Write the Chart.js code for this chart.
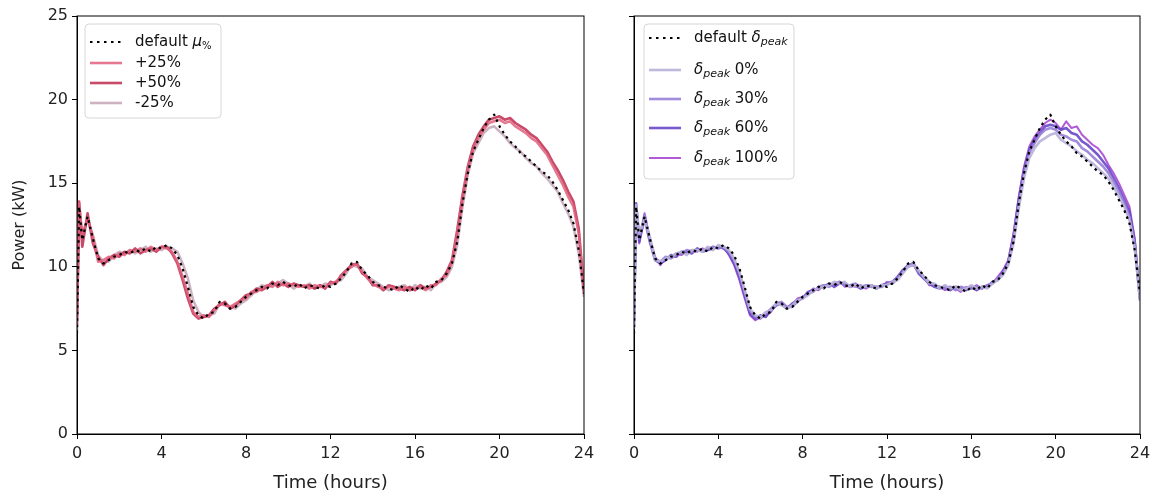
<!DOCTYPE html>
<html>
<head>
<meta charset="utf-8">
<script src="https://cdn.jsdelivr.net/npm/chart.js@4.4.0/dist/chart.umd.min.js"></script>
<style>
  body { margin: 0; background: #fff; width: 1160px; height: 497px; overflow: hidden; position: relative; }
  canvas { position: absolute; top: 0; }
  #left { left: 0; }
  #right { left: 600px; }
</style>
</head>
<body>
<canvas id="left" width="600" height="497"></canvas>
<canvas id="right" width="560" height="497"></canvas>
<script>
// sample times (hours), one every 15 minutes plus an extra one just after midnight
var hours = [0,0.1,0.25,0.5,0.75,1,1.25,1.5,1.75,2,2.25,2.5,2.75,3,3.25,3.5,3.75,4,4.25,4.5,4.75,
  5,5.25,5.5,5.75,6,6.25,6.5,6.75,7,7.25,7.5,7.75,8,8.25,8.5,8.75,9,9.25,9.5,9.75,
  10,10.25,10.5,10.75,11,11.25,11.5,11.75,12,12.25,12.5,12.75,13,13.25,13.5,13.75,
  14,14.25,14.5,14.75,15,15.25,15.5,15.75,16,16.25,16.5,16.75,17,17.25,17.5,17.75,
  18,18.25,18.5,18.75,19,19.25,19.5,19.75,20,20.25,20.5,20.75,21,21.25,21.5,21.75,
  22,22.25,22.5,22.75,23,23.25,23.5,23.75,24];
var xTicks = [0, 4, 8, 12, 16, 20, 24];
var yTicks = [0, 5, 10, 15, 20, 25];

// power (kW)
var defaultLoad = [6.0,13.6,11.6,13.0,11.7, 10.5,10.2,10.4,10.6, 10.7,10.9,10.8,11.0, 10.9,11.1,10.9,11.2,
  11.1,11.3,11.1,10.7, 9.9,8.8,7.6,7.1, 6.9,7.2,7.3,7.9, 7.8,7.5,7.6,7.9, 8.2,8.4,8.6,8.8,
  8.7,9.0,8.9,9.1, 8.9,8.8,9.0,8.7, 8.9,8.8,8.7,8.9, 8.8,9.0,9.3,9.7, 10.2,10.3,9.8,9.5,
  9.1,8.9,8.8,8.7, 8.6,8.9,8.7,8.5, 8.8,8.6,8.9,8.7, 9.1,9.2,9.6,10.2, 11.5,13.8,15.6,16.9,
  17.6,18.3,18.8,19.1, 18.4,17.9,17.5,17.2, 16.8,16.6,16.3,16.0, 15.7,15.5,15.1,14.6,
  14.0,13.4,12.6,11.0, 8.4];
var mu25 = [6.5,13.8,11.9,12.9,11.8, 10.3,10.4,10.6,10.5, 10.8,10.7,11.0,10.9, 11.1,10.9,11.2,11.0,
  11.2,11.1,10.9,10.3, 9.4,8.4,7.3,7.0, 7.1,7.0,7.4,7.8, 7.7,7.6,7.8,8.0, 8.1,8.5,8.5,8.7,
  8.9,8.8,9.1,8.9, 9.0,8.9,8.8,8.9, 8.7,8.9,8.8,8.8, 9.0,9.1,9.4,9.8, 10.0,10.2,9.7,9.3,
  9.0,8.8,8.7,8.8, 8.7,8.6,8.8,8.6, 8.7,8.8,8.6,8.9, 8.9,9.3,9.5,10.3, 11.9,14.0,15.8,17.0,
  17.7,18.2,18.6,18.7, 18.8,18.6,18.7,18.4, 18.2,18.0,17.7,17.5, 17.1,16.7,16.1,15.5,
  14.9,14.2,13.6,12.0, 8.5];
var mu50 = [7.0,13.9,11.2,13.2,11.4, 10.6,10.1,10.5,10.7, 10.6,10.9,10.8,11.1, 10.8,11.0,11.1,10.9,
  11.2,11.2,10.8,10.2, 9.2,8.1,7.2,6.9, 7.0,7.1,7.5,7.7, 7.9,7.5,7.7,8.0, 8.3,8.4,8.7,8.6,
  8.8,9.1,8.8,9.0, 8.8,9.0,8.9,8.8, 8.9,8.7,8.9,8.7, 9.1,9.0,9.5,9.8, 10.1,10.2,9.6,9.4,
  8.9,8.9,8.6,8.9, 8.8,8.7,8.6,8.8, 8.6,8.9,8.7,8.8, 9.0,9.2,9.7,10.4, 12.2,14.3,16.0,17.2,
  17.9,18.4,18.8,18.9, 19.0,18.8,18.9,18.6, 18.4,18.2,17.9,17.7, 17.3,16.9,16.3,15.8,
  15.2,14.5,13.9,12.3, 8.6];
var muM25 = [6.2,13.3,12.0,12.8,11.9, 10.7,10.3,10.3,10.7, 10.9,10.8,11.0,10.8, 11.0,11.2,10.9,11.1,
  11.0,11.2,11.1,10.9, 10.2,9.3,8.0,7.3, 7.0,7.1,7.2,7.8, 7.8,7.6,7.5,7.8, 8.0,8.3,8.6,8.9,
  8.8,8.9,9.0,9.2, 9.0,8.7,8.9,8.8, 9.0,8.7,8.8,9.0, 8.9,9.1,9.2,9.6, 10.2,10.0,9.9,9.4,
  9.2,9.0,8.8,8.6, 8.7,8.8,8.9,8.6, 8.9,8.7,8.8,8.6, 9.0,9.1,9.4,10.0, 11.3,13.6,15.5,16.8,
  17.4,18.0,18.3,18.4, 18.1,17.8,17.4,17.1, 16.9,16.5,16.2,16.0, 15.6,15.3,14.9,14.5,
  13.8,13.2,12.4,10.8, 8.2];

var peak0 = [6.3,13.7,12.0,12.8,11.8, 10.4,10.3,10.5,10.6, 10.8,10.9,10.7,11.0, 11.0,10.9,11.2,11.0,
  11.3,11.2,11.0,10.5, 9.7,8.6,7.5,7.1, 7.0,7.3,7.4,7.8, 7.7,7.5,7.7,8.0, 8.1,8.3,8.6,8.7,
  8.8,8.9,9.1,9.0, 9.1,8.8,8.9,8.8, 8.8,8.9,8.7,8.9, 8.9,9.1,9.2,9.6, 10.0,10.1,9.8,9.4,
  9.0,9.0,8.7,8.9, 8.7,8.8,8.6,8.7, 8.9,8.7,8.8,8.7, 9.0,9.2,9.5,10.1, 11.4,13.5,15.3,16.5,
  17.1,17.5,17.7,17.9, 18.0,17.6,17.4,17.2, 16.9,16.7,16.4,16.2, 15.9,15.6,15.3,14.8,
  14.2,13.6,12.8,11.1, 8.0];
var peak30 = [6.5,13.6,11.7,13.1,11.6, 10.5,10.3,10.6,10.5, 10.7,10.8,11.0,10.9, 11.0,11.0,11.1,11.2,
  11.1,11.2,10.9,10.4, 9.6,8.5,7.4,7.0, 6.9,7.2,7.5,7.8, 7.9,7.6,7.6,7.9, 8.2,8.4,8.5,8.8,
  8.9,8.8,9.0,9.1, 8.9,8.9,9.0,8.8, 8.9,8.8,8.8,8.8, 9.0,9.0,9.3,9.7, 10.1,10.2,9.7,9.4,
  9.1,8.9,8.8,8.7, 8.8,8.6,8.8,8.7, 8.7,8.8,8.7,8.9, 9.0,9.3,9.6,10.2, 11.6,13.7,15.6,16.8,
  17.4,17.9,18.2,18.3, 18.2,17.9,17.8,17.6, 17.5,17.1,16.9,16.6, 16.3,16.0,15.6,15.1,
  14.5,13.8,13.0,11.3, 8.1];
var peak60 = [6.8,13.8,11.5,12.9,11.5, 10.4,10.2,10.4,10.7, 10.6,10.9,10.9,10.8, 11.1,10.9,11.0,11.1,
  11.2,11.1,10.8,10.2, 9.4,8.3,7.2,6.9, 7.1,7.0,7.4,7.7, 7.8,7.5,7.8,8.0, 8.1,8.5,8.6,8.7,
  8.8,9.0,8.8,9.0, 9.0,8.8,8.9,8.7, 8.8,8.9,8.7,8.9, 9.0,9.1,9.4,9.8, 10.1,10.2,9.6,9.3,
  9.0,8.8,8.7,8.8, 8.6,8.8,8.7,8.6, 8.8,8.6,8.8,8.8, 9.1,9.2,9.7,10.3, 11.8,14.0,15.8,17.0,
  17.6,18.0,18.4,18.5, 18.4,18.2,18.3,18.0, 17.9,17.5,17.3,17.0, 16.7,16.3,15.9,15.3,
  14.7,14.0,13.3,11.5, 8.0];
var peak100 = [7.0,13.7,11.4,13.2,11.7, 10.6,10.1,10.5,10.6, 10.8,10.7,10.9,11.0, 10.9,11.1,11.0,11.2,
  11.1,11.2,10.7,10.1, 9.2,8.1,7.1,6.8, 7.0,7.1,7.3,7.8, 7.8,7.6,7.7,8.1, 8.2,8.4,8.7,8.6,
  8.9,8.9,9.0,9.1, 8.8,8.9,8.8,8.9, 8.7,8.9,8.8,8.8, 9.1,9.0,9.3,9.8, 10.0,10.1,9.7,9.4,
  8.9,8.9,8.8,8.6, 8.8,8.7,8.5,8.8, 8.7,8.9,8.7,8.9, 9.0,9.4,9.8,10.4, 12.0,14.2,16.0,17.2,
  17.8,18.2,18.6,18.8, 18.6,18.2,18.7,18.3, 18.4,17.9,17.6,17.3, 17.1,16.7,16.1,15.6,
  15.0,14.3,13.6,11.7, 8.0];

function pts(values) {
  return values.map(function(v, i) { return { x: hours[i], y: v }; });
}

function line(values, color, width, dash) {
  return {
    data: pts(values),
    borderColor: color,
    borderWidth: width,
    borderDash: dash || [],
    pointRadius: 0,
    fill: false,
    tension: 0,
    borderJoinStyle: 'round'
  };
}

// top and right spines
var frame = {
  id: 'frame',
  afterDatasetsDraw: function(chart) {
    var a = chart.chartArea, c = chart.ctx;
    c.save();
    c.strokeStyle = '#000';
    c.lineWidth = 1;
    c.strokeRect(a.left, a.top, a.right - a.left, a.bottom - a.top);
    c.restore();
  }
};

// matplotlib style legend box with math labels
var boxLegend = {
  id: 'boxLegend',
  afterDraw: function(chart, args, o) {
    var c = chart.ctx;
    c.save();
    c.beginPath();
    c.roundRect(o.x, o.y, o.w, o.h, 4);
    c.fillStyle = 'rgba(255,255,255,0.8)';
    c.fill();
    c.strokeStyle = '#d6d6d6';
    c.lineWidth = 1;
    c.stroke();
    o.rows.forEach(function(runs, i) {
      var ds = chart.data.datasets[i];
      var y = o.rowY[i];
      c.beginPath();
      c.strokeStyle = ds.borderColor;
      c.lineWidth = ds.borderWidth;
      c.setLineDash(ds.borderDash.length ? [2.5, 4.5] : []);
      c.moveTo(o.x + 5, y);
      c.lineTo(o.x + 37, y);
      c.stroke();
      c.setLineDash([]);
      var tx = o.x + 50;
      c.fillStyle = '#111';
      c.textBaseline = 'middle';
      runs.forEach(function(r) {
        var st = r[1], dy = 0;
        if (st === 'n') c.font = '15px "DejaVu Sans"';
        if (st === 'i') c.font = 'italic 15px "DejaVu Sans"';
        if (st === 's') { c.font = 'italic 11px "DejaVu Sans"'; dy = 4; }
        if (st === 'sn') { c.font = '10px "DejaVu Sans"'; dy = 4; }
        c.fillText(r[0], tx, y + dy);
        tx += c.measureText(r[0]).width;
      });
    });
    c.restore();
  }
};

var tickFont = { family: 'DejaVu Sans', size: 16 };

function makeScales(yWidth, showY) {
  return {
    x: {
      type: 'linear', min: 0, max: 24,
      afterBuildTicks: function(s) { s.ticks = xTicks.map(function(v) { return { value: v }; }); },
      afterFit: function(s) { s.height = 63; },
      ticks: { font: tickFont, color: '#222', padding: 5, maxRotation: 0 },
      grid: { display: true, drawOnChartArea: false, drawTicks: true, tickLength: 5, tickColor: '#000', tickWidth: 1 },
      border: { display: true, color: '#000', width: 1 },
      title: { display: true, text: 'Time (hours)', font: { family: 'DejaVu Sans', size: 18 }, color: '#222', padding: { top: 0, bottom: 3 } }
    },
    y: {
      type: 'linear', min: 0, max: 25,
      afterBuildTicks: function(s) { s.ticks = yTicks.map(function(v) { return { value: v }; }); },
      afterFit: function(s) { s.width = yWidth; },
      ticks: {
        font: tickFont, color: '#222', padding: 4,
        callback: function(v) { return showY ? v : ''; }
      },
      grid: { display: true, drawOnChartArea: false, drawTicks: true, tickLength: 5, tickColor: '#000', tickWidth: 1 },
      border: { display: true, color: '#000', width: 1 },
      title: { display: showY, text: 'Power (kW)', font: { family: 'DejaVu Sans', size: 16 }, color: '#222', padding: { top: 10, bottom: 0 } }
    }
  };
}

new Chart(document.getElementById('left'), {
  type: 'line',
  data: {
    datasets: [
      line(defaultLoad, '#000', 2.2, [2.5, 4]),
      line(mu25, 'rgba(224,96,124,0.85)', 2.6),
      line(mu50, 'rgba(190,42,78,0.85)', 2.6),
      line(muM25, 'rgba(196,166,182,0.85)', 2.6)
    ]
  },
  options: {
    responsive: false,
    animation: false,
    layout: { padding: { left: 0, right: 16, top: 16, bottom: 0 } },
    scales: makeScales(77, true),
    plugins: {
      legend: { display: false },
      tooltip: { enabled: false },
      boxLegend: {
        x: 85, y: 24, w: 136, h: 94,
        rowY: [42, 63, 83, 103],
        rows: [
          [['default ', 'n'], ['\u03bc', 'i'], ['%', 'sn']],
          [['+25%', 'n']],
          [['+50%', 'n']],
          [['-25%', 'n']]
        ]
      }
    }
  },
  plugins: [frame, boxLegend]
});

new Chart(document.getElementById('right'), {
  type: 'line',
  data: {
    datasets: [
      line(defaultLoad, '#000', 2.2, [2.5, 4]),
      line(peak0, 'rgba(184,178,216,0.9)', 2.6),
      line(peak30, 'rgba(152,128,216,0.9)', 2.6),
      line(peak60, 'rgba(104,72,200,0.9)', 2.6),
      line(peak100, 'rgba(170,72,210,0.9)', 2)
    ]
  },
  options: {
    responsive: false,
    animation: false,
    layout: { padding: { left: 0, right: 20, top: 16, bottom: 0 } },
    scales: makeScales(34, false),
    plugins: {
      legend: { display: false },
      tooltip: { enabled: false },
      boxLegend: {
        x: 44, y: 24, w: 150, h: 155,
        rowY: [38, 70, 99, 128, 158],
        rows: [
          [['default ', 'n'], ['\u03b4', 'i'], ['peak', 's']],
          [['\u03b4', 'i'], ['peak', 's'], [' 0%', 'n']],
          [['\u03b4', 'i'], ['peak', 's'], [' 30%', 'n']],
          [['\u03b4', 'i'], ['peak', 's'], [' 60%', 'n']],
          [['\u03b4', 'i'], ['peak', 's'], [' 100%', 'n']]
        ]
      }
    }
  },
  plugins: [frame, boxLegend]
});
</script>
</body>
</html>
